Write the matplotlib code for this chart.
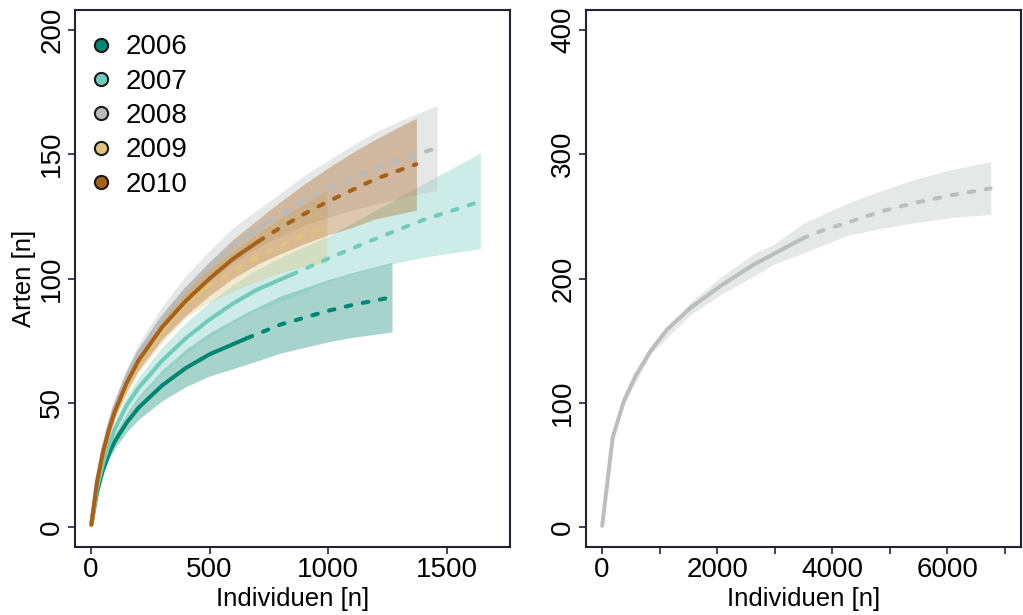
import matplotlib
matplotlib.use("Agg")
import matplotlib.pyplot as plt
from matplotlib.lines import Line2D
import numpy as np

plt.rcParams['font.family'] = ['Liberation Sans', 'DejaVu Sans']

years = ['2006', '2007', '2008', '2009', '2010']
colors = ['#018571', '#72CABB', '#B9BBBB', '#DFC27D', '#A6611A']

# rarefied (observed) part of each curve
obs_x = {
    '2006': [1, 25, 50, 75, 100, 150, 200, 300, 400, 500, 658],
    '2007': [1, 25, 50, 75, 100, 150, 200, 300, 400, 500, 600, 700, 845],
    '2008': [1, 25, 50, 75, 100, 150, 200, 300, 400, 500, 600, 748],
    '2009': [1, 25, 50, 75, 100, 150, 200, 300, 400, 490],
    '2010': [1, 25, 50, 75, 100, 150, 200, 300, 400, 500, 600, 707],
}
obs_y = {
    '2006': [1, 14, 23, 29.5, 34.5, 42, 48, 57, 64, 69.5, 76],
    '2007': [1, 15.5, 25.5, 33, 39.5, 49, 56, 67, 76, 83.5, 90, 95.5, 101.5],
    '2008': [1, 18.5, 31, 40.5, 48.5, 60.5, 70, 84, 95.5, 105, 113.5, 122.8],
    '2009': [1, 17.5, 29, 38, 45.5, 56.5, 66, 79, 90, 96.5],
    '2010': [1, 18, 30, 39, 46.5, 58, 67, 80.5, 91, 100, 108, 115],
}
# extrapolated part
ext_x = {
    '2006': [658, 800, 1000, 1100, 1270],
    '2007': [845, 1000, 1200, 1400, 1643],
    '2008': [748, 900, 1000, 1100, 1200, 1300, 1460],
    '2009': [490, 600, 700, 800, 900, 996],
    '2010': [707, 800, 900, 1000, 1100, 1200, 1300, 1373],
}
ext_y = {
    '2006': [76, 81.5, 87, 89.3, 92.5],
    '2007': [101.5, 108, 116, 123.5, 131],
    '2008': [122.8, 131.5, 136, 140.5, 144.3, 147.8, 152.5],
    '2009': [96.5, 103, 108.5, 113.3, 117.5, 121],
    '2010': [115, 120.5, 126, 131, 135.5, 140, 143.5, 146],
}
# confidence bands
band_x = {
    '2006': [1, 25, 50, 75, 100, 150, 200, 300, 400, 500, 658, 800, 1000, 1100, 1270],
    '2007': [1, 25, 50, 75, 100, 150, 200, 300, 400, 500, 600, 700, 845, 1000, 1200, 1400, 1643],
    '2008': [1, 25, 50, 75, 100, 150, 200, 300, 400, 500, 600, 748, 900, 1000, 1100, 1200, 1300, 1460],
    '2009': [1, 25, 50, 75, 100, 150, 200, 300, 400, 490, 600, 700, 800, 900, 996],
    '2010': [1, 25, 50, 75, 100, 150, 200, 300, 400, 500, 600, 707, 800, 900, 1000, 1100, 1200, 1300, 1373],
}
band_lo = {
    '2006': [1, 13.2, 21.5, 27.3, 31.7, 38.2, 43.3, 50.8, 56.5, 60.8, 65.5, 70, 74.5, 76.3, 78.5],
    '2007': [1, 14.7, 24, 30.8, 36.7, 45.4, 51.7, 61.6, 69.7, 76.5, 82.4, 87.3, 92.5, 99, 104.5, 108.5, 112],
    '2008': [1, 17.7, 29.5, 38.5, 46, 57.3, 66.2, 79.2, 89.9, 98.7, 106.5, 114.8, 121.5, 124.5, 127.5, 129.8, 132.3, 135.5],
    '2009': [1, 16.7, 27.5, 36, 43, 53.3, 62.2, 74.2, 84.3, 90, 95, 99, 102.3, 105, 106.5],
    '2010': [1, 17.2, 28.5, 37, 44, 54.8, 63.2, 75.7, 85.2, 93.2, 100.2, 106, 110, 114, 117.5, 120.5, 124, 126, 127.5],
}
band_hi = {
    '2006': [1, 14.8, 24.5, 31.7, 37.3, 45.8, 52.7, 63.2, 71.5, 78.2, 86.5, 93, 99.5, 102.3, 106.5],
    '2007': [1, 16.3, 27, 35.2, 42.3, 52.6, 60.3, 72.4, 82.3, 90.5, 97.6, 103.7, 110.5, 117, 127.5, 138, 150.5],
    '2008': [1, 19.3, 32.5, 42.5, 51, 63.7, 73.8, 88.8, 101.1, 111.3, 120.5, 130.8, 141.5, 147.5, 153.5, 158.8, 163.3, 169.5],
    '2009': [1, 18.3, 30.5, 40, 48, 59.7, 69.8, 83.8, 95.7, 103, 111, 118, 124.3, 130, 135.5],
    '2010': [1, 18.8, 31.5, 41, 49, 61.2, 70.8, 85.3, 96.8, 106.8, 115.8, 124, 131, 138, 144.5, 150.5, 156, 161, 164.5],
}

# all years pooled
tot_obs_x = [1, 184, 376, 579, 840, 1130, 1536, 2058, 2638, 3000, 3478]
tot_obs_y = [1, 72, 101, 121.5, 141.6, 159, 176.4, 194, 211.3, 220.2, 232]
tot_ext_x = [3478, 3680, 4289, 4870, 5449, 6057, 6753]
tot_ext_y = [232, 236.3, 245.4, 254.2, 261, 266.9, 272.5]
tot_band_x = [1, 184, 376, 840, 1536, 2058, 2638, 3000, 3478, 3900, 4289, 4870, 5449, 6057, 6753]
tot_band_lo = [1, 71, 99, 139, 171, 187, 202, 212, 220, 228, 235, 240.5, 245, 249, 251.6]
tot_band_hi = [1, 73, 103, 144, 181, 201, 220, 228, 244, 253, 261, 271, 280, 287.5, 294]
tot_color = '#BCBEBE'

frame_col = '#222233'
lw = 2.9
dash = (0, (1.4, 2.9))


def style_axes(ax):
    for s in ax.spines.values():
        s.set_color(frame_col)
        s.set_linewidth(1.5)
    ax.tick_params(axis='both', length=5, width=1.2, color=frame_col,
                   labelsize=20, labelcolor='black')
    ax.tick_params(axis='x', pad=2)
    ax.tick_params(axis='y', pad=2, labelrotation=90)
    for lab in ax.get_yticklabels():
        lab.set_va('center')


fig = plt.figure(figsize=(10.23, 6.15), dpi=100)
ax1 = fig.add_axes([75 / 1023, 1 - 547 / 615, 435 / 1023, 537 / 615])
ax2 = fig.add_axes([586 / 1023, 1 - 547 / 615, 435 / 1023, 537 / 615])

# left panel: one curve per year
for y, c in zip(years, colors):
    ax1.fill_between(band_x[y], band_lo[y], band_hi[y], color=c, alpha=0.35,
                     linewidth=0)
for y, c in zip(years, colors):
    ax1.plot(obs_x[y], obs_y[y], color=c, lw=lw, solid_capstyle='round',
             solid_joinstyle='round')
    ax1.plot(ext_x[y], ext_y[y], color=c, lw=lw, linestyle=dash,
             dash_capstyle='round')

ax1.set_xlim(-68, 1768)
ax1.set_ylim(-8, 208)
ax1.set_xticks([0, 500, 1000, 1500])
ax1.set_yticks([0, 50, 100, 150, 200])
ax1.set_xlabel('Individuen [n]', fontsize=18.5, labelpad=3)
ax1.set_ylabel('Arten [n]', fontsize=18.5, labelpad=2.5)
style_axes(ax1)

handles = [Line2D([], [], marker='o', linestyle='none', markersize=9.5,
                  markerfacecolor=c, markeredgecolor='#1a1a1a',
                  markeredgewidth=1.5) for c in colors]
ax1.legend(handles, years, loc='upper left', bbox_to_anchor=(0.0345, 0.9545),
           frameon=False, fontsize=20, handlelength=0.8, handletextpad=0.5,
           labelspacing=0.3, borderaxespad=0, borderpad=0)

# right panel: pooled
ax2.fill_between(tot_band_x, tot_band_lo, tot_band_hi, color='#B9BBBB',
                 alpha=0.35, linewidth=0)
ax2.plot(tot_obs_x, tot_obs_y, color=tot_color, lw=lw, solid_capstyle='round',
         solid_joinstyle='round')
ax2.plot(tot_ext_x, tot_ext_y, color=tot_color, lw=lw, linestyle=dash,
         dash_capstyle='round')
ax2.set_xlim(-280, 7280)
ax2.set_ylim(-16, 416)
ax2.set_xticks(np.arange(0, 7001, 1000))
ax2.set_xticklabels(['0', '', '2000', '', '4000', '', '6000', ''])
ax2.set_yticks([0, 100, 200, 300, 400])
ax2.set_xlabel('Individuen [n]', fontsize=18.5, labelpad=3)
style_axes(ax2)

fig.savefig('out.png', dpi=100)
